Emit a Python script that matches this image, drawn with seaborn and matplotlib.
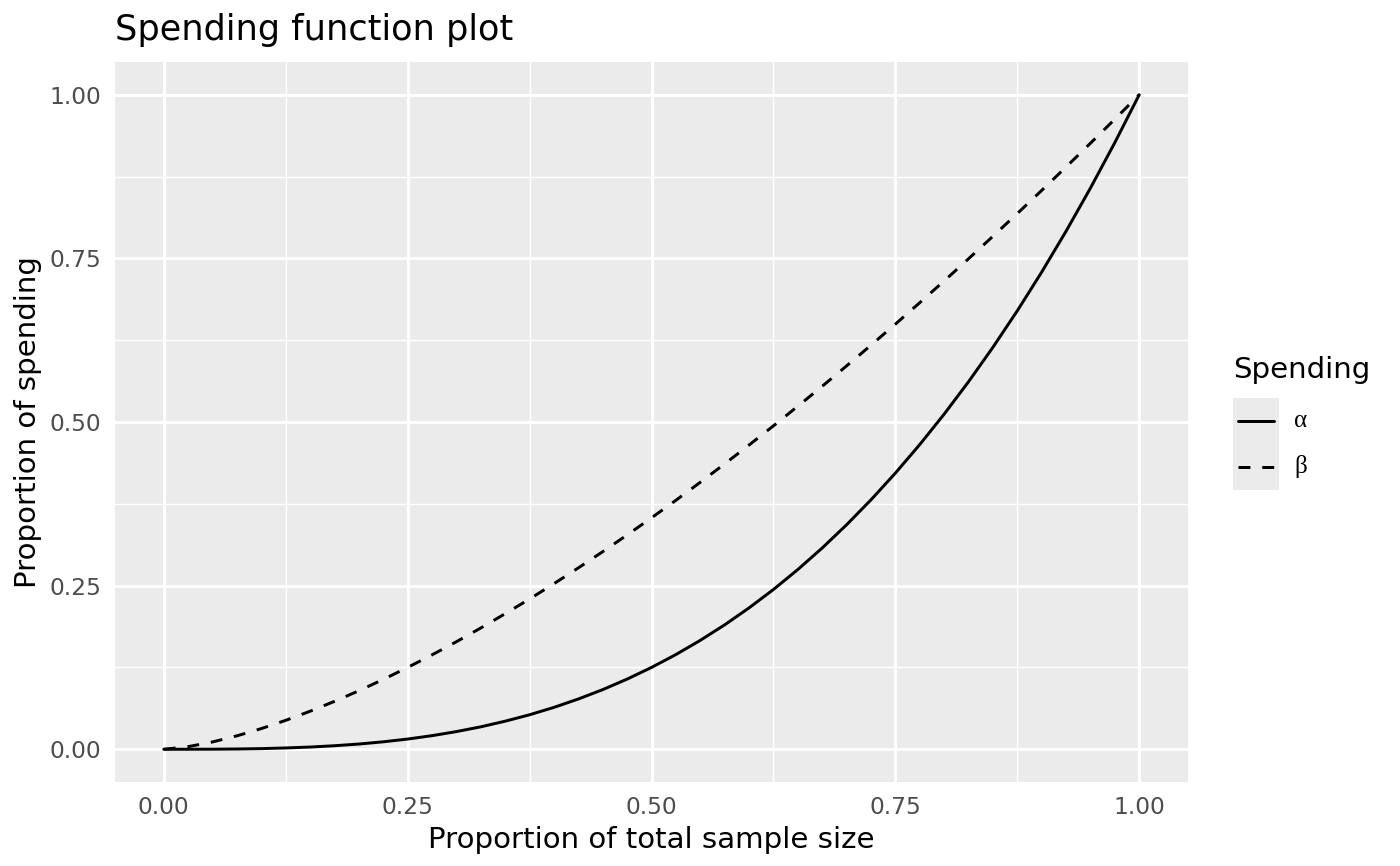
"""
Spending function plot (estilo ggplot) com seaborn
"""

import numpy as np
import pandas as pd
import matplotlib.pyplot as plt
import seaborn as sns

# dados
t = [0.000, 0.025, 0.050, 0.075, 0.100, 0.125, 0.150, 0.175, 0.200, 0.225,
     0.250, 0.275, 0.300, 0.325, 0.350, 0.375, 0.400, 0.425, 0.450, 0.475,
     0.500, 0.525, 0.550, 0.575, 0.600, 0.625, 0.650, 0.675, 0.700, 0.725,
     0.750, 0.775, 0.800, 0.825, 0.850, 0.875, 0.900, 0.925, 0.950, 0.975, 1.000]
alpha = [0.0, 0.00002, 0.00013, 0.00042, 0.0010, 0.0020, 0.0034, 0.0054, 0.0080, 0.0114,
         0.0156, 0.0208, 0.0270, 0.0343, 0.0429, 0.0527, 0.0640, 0.0768, 0.0911, 0.1072,
         0.1250, 0.1447, 0.1664, 0.1901, 0.2160, 0.2441, 0.2746, 0.3075, 0.3430, 0.3811,
         0.4219, 0.4655, 0.5120, 0.5615, 0.6141, 0.6699, 0.7290, 0.7915, 0.8574, 0.9269, 1.0]
beta = [0.0, 0.0040, 0.0112, 0.0205, 0.0316, 0.0442, 0.0581, 0.0732, 0.0894, 0.1067,
        0.1250, 0.1442, 0.1643, 0.1853, 0.2071, 0.2296, 0.2530, 0.2771, 0.3019, 0.3274,
        0.3536, 0.3804, 0.4079, 0.4360, 0.4648, 0.4941, 0.5241, 0.5546, 0.5857, 0.6173,
        0.6495, 0.6823, 0.7155, 0.7494, 0.7837, 0.8185, 0.8538, 0.8896, 0.9259, 0.9627, 1.0]
labels = ['α', 'β']
ticks = [0.00, 0.25, 0.50, 0.75, 1.00]
minor_ticks = [0.125, 0.375, 0.625, 0.875]

dados = pd.DataFrame({
    't': t + t,
    'valor': alpha + beta,
    'Spending': [labels[0]] * len(t) + [labels[1]] * len(t),
})

sns.set_style("darkgrid")
plt.rcParams['font.family'] = ['DejaVu Sans']
plt.rcParams['text.color'] = 'black'
plt.rcParams['axes.labelcolor'] = 'black'

lw = 1.07  # equivalente ao linewidth 0.5 do ggplot
fs = 0.957  # fator de escala das fontes
estilos = {labels[0]: '', labels[1]: (4, 4)}

fig = plt.figure(figsize=(7, 4.33), dpi=200)
ax = fig.add_axes([115 / 1400, 1 - 782 / 866, (1188 - 115) / 1400, (782 - 62) / 866])

sns.lineplot(data=dados, x='t', y='valor', style='Spending', dashes=estilos,
             color='black', linewidth=lw, legend=False, ax=ax)

# aparência do painel
ax.set_facecolor('#EBEBEB')
for s in ax.spines.values():
    s.set_visible(False)
ax.set_xlim(-0.05, 1.05)
ax.set_ylim(-0.05, 1.05)
ax.set_xticks(ticks)
ax.set_yticks(ticks)
ax.set_xticks(minor_ticks, minor=True)
ax.set_yticks(minor_ticks, minor=True)
ax.set_xticklabels([f'{v:.2f}' for v in ticks])
ax.set_yticklabels([f'{v:.2f}' for v in ticks])
ax.grid(which='major', color='white', linewidth=lw)
ax.grid(which='minor', color='white', linewidth=lw / 2)
ax.set_axisbelow(True)
ax.tick_params(which='major', length=2.75, width=lw, color='#333333',
               labelsize=8.8 * fs, labelcolor='#4D4D4D', pad=2.2)
ax.tick_params(which='minor', length=0)

ax.set_xlabel('Proportion of total sample size', fontsize=11 * fs, labelpad=2.75)
ax.set_ylabel('Proportion of spending', fontsize=11 * fs, labelpad=2.75)

fig.text(115 / 1400, 1 - 30 / 866, 'Spending function plot', fontsize=13.2 * fs,
         ha='left', va='center')

# legenda manual no estilo ggplot
leg = fig.add_axes([1233 / 1400, 1 - 490 / 866, 46 / 1400, 92 / 866])
leg.set_facecolor('#EBEBEB')
leg.set_xlim(0, 1)
leg.set_ylim(0, 2)
leg.set_xticks([])
leg.set_yticks([])
leg.grid(False)
for s in leg.spines.values():
    s.set_visible(False)
for i, lab in enumerate(labels):
    y = 1.5 - i
    if estilos[lab] == '':
        leg.plot([0.1, 0.9], [y, y], color='black', linewidth=lw)
    else:
        leg.plot([0.1, 0.9], [y, y], color='black', linewidth=lw, dashes=estilos[lab])
    leg.text(1.33, y, lab, fontsize=9, family=['Liberation Serif', 'DejaVu Serif'],
             va='center', ha='left', clip_on=False)
fig.text(1233 / 1400, 1 - 370 / 866, 'Spending', fontsize=11 * fs, ha='left', va='center')

fig.savefig('out.png', dpi=200)
